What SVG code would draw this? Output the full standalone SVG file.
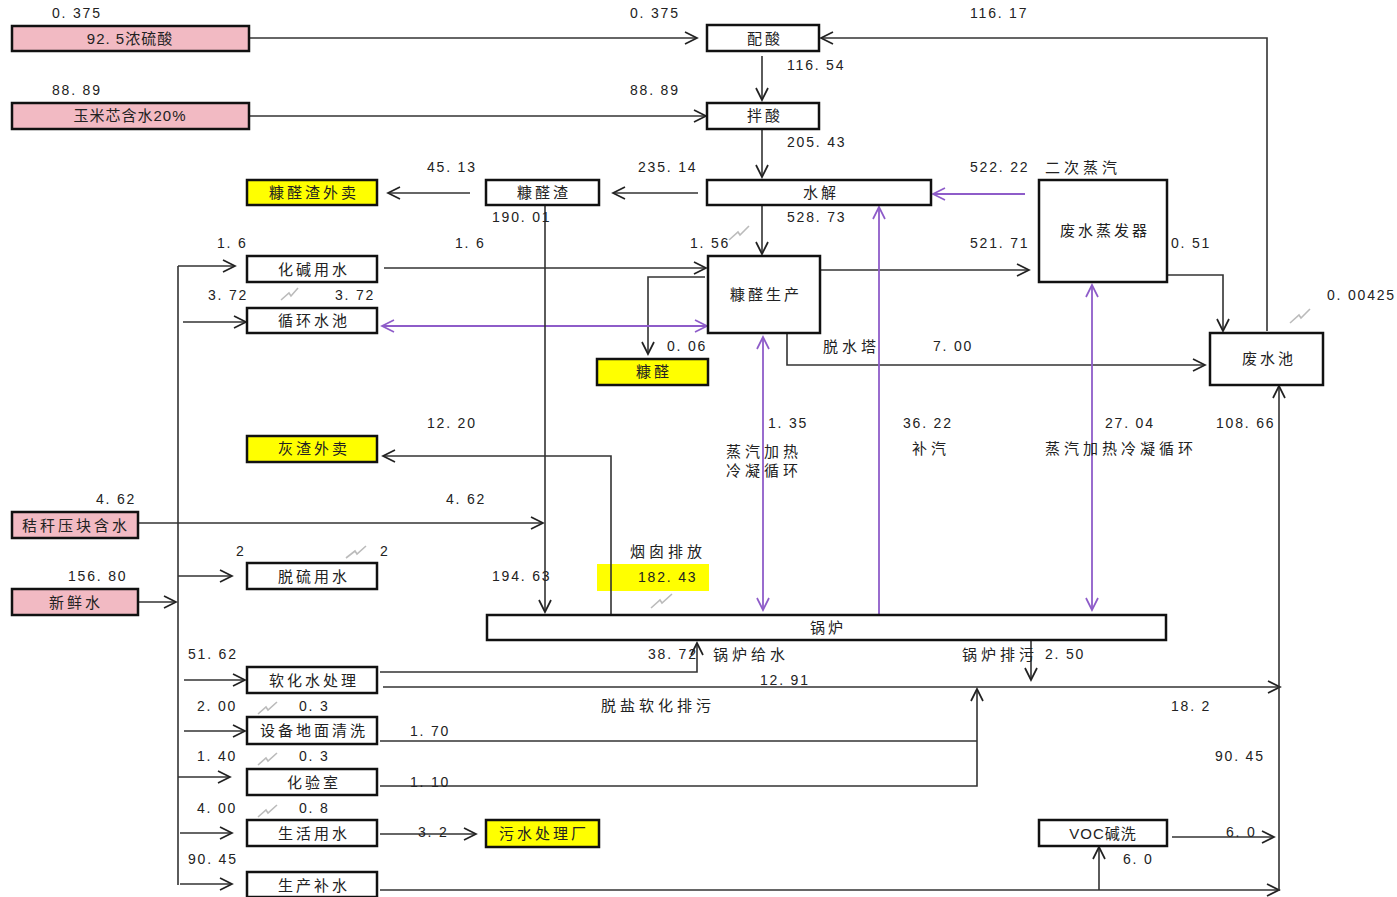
<svg xmlns="http://www.w3.org/2000/svg" width="1397" height="897" viewBox="0 0 1397 897">
<style>
.bx{fill:#fff;stroke:#111;stroke-width:2.5}
.pk{fill:#f2bac3;stroke:#111;stroke-width:2.5}
.yl{fill:#ffff00;stroke:#111;stroke-width:2.5}
.ln{fill:none;stroke:#333;stroke-width:1.6}
.pl{fill:none;stroke:#8e5cc9;stroke-width:1.8}
.sq{fill:none;stroke:#bbb;stroke-width:1.6}
text{font-family:"Liberation Sans","Noto Sans CJK SC",sans-serif;fill:#222}
.n{font-size:14px;letter-spacing:1.8px}
.c{font-size:15px;letter-spacing:4px}
.m{font-size:15px;letter-spacing:3px;text-anchor:middle}
.mx{font-size:15px;letter-spacing:1px;text-anchor:middle}
</style>
<defs>
<marker id="ah" markerUnits="userSpaceOnUse" markerWidth="16" markerHeight="16" viewBox="0 0 16 16" refX="13" refY="7" orient="auto-start-reverse"><path d="M1,1 L13,7 L1,13" fill="none" stroke="#222" stroke-width="1.7"/></marker>
<marker id="ahp" markerUnits="userSpaceOnUse" markerWidth="16" markerHeight="16" viewBox="0 0 16 16" refX="13" refY="7" orient="auto-start-reverse"><path d="M1,1 L13,7 L1,13" fill="none" stroke="#8e5cc9" stroke-width="1.7"/></marker>
</defs>
<rect width="1397" height="897" fill="#fff"/>
<rect x="597" y="564" width="112" height="27" fill="#ffff00"/>
<g id="connectors">
<path class="ln" d="M249,38 H697" marker-end="url(#ah)"/>
<path class="ln" d="M249,116 H706" marker-end="url(#ah)"/>
<path class="ln" d="M762,56 V100" marker-end="url(#ah)"/>
<path class="ln" d="M762,130 V177" marker-end="url(#ah)"/>
<path class="ln" d="M698,193 H613" marker-end="url(#ah)"/>
<path class="ln" d="M470,193 H388" marker-end="url(#ah)"/>
<path class="ln" d="M762,206 V254" marker-end="url(#ah)"/>
<path class="pl" d="M1025,194 H933" marker-end="url(#ahp)"/>
<path class="ln" d="M820,270 H1029" marker-end="url(#ah)"/>
<path class="ln" d="M384,268 H706" marker-end="url(#ah)"/>
<path class="ln" d="M705,277 H648 V354" marker-end="url(#ah)"/>
<path class="pl" d="M382,326 H707" marker-start="url(#ahp)" marker-end="url(#ahp)"/>
<path class="ln" d="M787,334 V365 H1205" marker-end="url(#ah)"/>
<path class="pl" d="M763,337 V610" marker-start="url(#ahp)" marker-end="url(#ahp)"/>
<path class="pl" d="M879,615 V207" marker-end="url(#ahp)"/>
<path class="pl" d="M1092,285 V610" marker-start="url(#ahp)" marker-end="url(#ahp)"/>
<path class="ln" d="M1168,275 H1223 V331" marker-end="url(#ah)"/>
<path class="ln" d="M1267,331 V38 H821" marker-end="url(#ah)"/>
<path class="ln" d="M178,266 V885"/>
<path class="ln" d="M178,266 H235" marker-end="url(#ah)"/>
<path class="ln" d="M183,322 H246" marker-end="url(#ah)"/>
<path class="ln" d="M178,576 H232" marker-end="url(#ah)"/>
<path class="ln" d="M138,602 H176" marker-end="url(#ah)"/>
<path class="ln" d="M184,680 H245" marker-end="url(#ah)"/>
<path class="ln" d="M184,731 H245" marker-end="url(#ah)"/>
<path class="ln" d="M178,777 H230" marker-end="url(#ah)"/>
<path class="ln" d="M180,833 H232" marker-end="url(#ah)"/>
<path class="ln" d="M180,884 H232" marker-end="url(#ah)"/>
<path class="ln" d="M138,523 H543" marker-end="url(#ah)"/>
<path class="ln" d="M545,206 V612" marker-end="url(#ah)"/>
<path class="ln" d="M611,615 V456 H383" marker-end="url(#ah)"/>
<path class="ln" d="M380,672 H697 V643" marker-end="url(#ah)"/>
<path class="ln" d="M383,687 H1280" marker-end="url(#ah)"/>
<path class="ln" d="M1031,641 V680" marker-end="url(#ah)"/>
<path class="ln" d="M380,741 H977"/>
<path class="ln" d="M380,786 H977 V689" marker-end="url(#ah)"/>
<path class="ln" d="M380,834 H476" marker-end="url(#ah)"/>
<path class="ln" d="M380,890 H1279" marker-end="url(#ah)"/>
<path class="ln" d="M1099,890 V847" marker-end="url(#ah)"/>
<path class="ln" d="M1172,837 H1274" marker-end="url(#ah)"/>
<path class="ln" d="M1279,891 V386" marker-end="url(#ah)"/>
</g>
<g id="squiggles">
<path class="sq" d="M281,300 l8,-7 l2,3 l7,-8"/>
<path class="sq" d="M729,240 l9,-8 l2,3 l9,-9"/>
<path class="sq" d="M1290,323 l9,-8 l2,3 l9,-9"/>
<path class="sq" d="M346,558 l9,-7 l2,3 l9,-8"/>
<path class="sq" d="M651,608 l9,-8 l2,3 l10,-9"/>
<path class="sq" d="M258,714 l8,-7 l2,3 l9,-8"/>
<path class="sq" d="M258,765 l8,-7 l2,3 l9,-8"/>
<path class="sq" d="M258,817 l8,-7 l2,3 l9,-8"/>
</g>
<g id="n-liusuan"><rect class="pk" x="12" y="26" width="237" height="25"/><text class="mx" x="130" y="44">92. 5浓硫酸</text></g>
<g id="n-yumixin"><rect class="pk" x="12" y="103" width="237" height="26"/><text class="mx" x="130" y="121">玉米芯含水20%</text></g>
<g id="n-peisuan"><rect class="bx" x="707" y="25" width="112" height="26"/><text class="m" x="765" y="44">配酸</text></g>
<g id="n-bansuan"><rect class="bx" x="707" y="103" width="112" height="26"/><text class="m" x="765" y="121">拌酸</text></g>
<g id="n-shuijie"><rect class="bx" x="707" y="180" width="224" height="25"/><text class="m" x="821" y="198">水解</text></g>
<g id="n-kqz"><rect class="bx" x="486" y="180" width="113" height="25"/><text class="m" x="544" y="198">糠醛渣</text></g>
<g id="n-kqzws"><rect class="yl" x="247" y="180" width="130" height="25"/><text class="m" x="314" y="198">糠醛渣外卖</text></g>
<g id="n-hjys"><rect class="bx" x="247" y="256" width="130" height="26"/><text class="m" x="314" y="275">化碱用水</text></g>
<g id="n-xhsc"><rect class="bx" x="247" y="308" width="130" height="25"/><text class="m" x="314" y="326">循环水池</text></g>
<g id="n-kqsc"><rect class="bx" x="708" y="256" width="112" height="77"/><text class="m" x="766" y="300">糠醛生产</text></g>
<g id="n-kq"><rect class="yl" x="597" y="359" width="111" height="26"/><text class="m" x="654" y="377">糠醛</text></g>
<g id="n-fszfq"><rect class="bx" x="1039" y="180" width="128" height="102"/><text class="m" x="1105" y="236">废水蒸发器</text></g>
<g id="n-fsc"><rect class="bx" x="1210" y="333" width="113" height="52"/><text class="m" x="1269" y="364">废水池</text></g>
<g id="n-hzws"><rect class="yl" x="247" y="436" width="130" height="26"/><text class="m" x="314" y="454">灰渣外卖</text></g>
<g id="n-jg"><rect class="pk" x="12" y="512" width="126" height="26"/><text class="m" x="76" y="531">秸秆压块含水</text></g>
<g id="n-xxs"><rect class="pk" x="12" y="589" width="126" height="26"/><text class="m" x="76" y="608">新鲜水</text></g>
<g id="n-tlys"><rect class="bx" x="247" y="563" width="130" height="26"/><text class="m" x="314" y="582">脱硫用水</text></g>
<g id="n-guolu"><rect class="bx" x="487" y="615" width="679" height="25"/><text class="m" x="828" y="633">锅炉</text></g>
<g id="n-rhs"><rect class="bx" x="247" y="667" width="130" height="26"/><text class="m" x="314" y="686">软化水处理</text></g>
<g id="n-sbdm"><rect class="bx" x="247" y="717" width="130" height="27"/><text class="m" x="314" y="736">设备地面清洗</text></g>
<g id="n-hys"><rect class="bx" x="247" y="769" width="130" height="26"/><text class="m" x="314" y="788">化验室</text></g>
<g id="n-shys"><rect class="bx" x="247" y="820" width="130" height="26"/><text class="m" x="314" y="839">生活用水</text></g>
<g id="n-scbs"><rect class="bx" x="247" y="872" width="130" height="25"/><text class="m" x="314" y="891">生产补水</text></g>
<g id="n-wsclc"><rect class="yl" x="486" y="820" width="113" height="27"/><text class="m" x="544" y="839">污水处理厂</text></g>
<g id="n-voc"><rect class="bx" x="1039" y="820" width="128" height="26"/><text class="mx" x="1103" y="839">VOC碱洗</text></g>
<g id="labels">
<text class="n" x="52" y="18">0. 375</text>
<text class="n" x="630" y="18">0. 375</text>
<text class="n" x="970" y="18">116. 17</text>
<text class="n" x="52" y="95">88. 89</text>
<text class="n" x="630" y="95">88. 89</text>
<text class="n" x="787" y="70">116. 54</text>
<text class="n" x="787" y="147">205. 43</text>
<text class="n" x="427" y="172">45. 13</text>
<text class="n" x="638" y="172">235. 14</text>
<text class="n" x="970" y="172">522. 22</text>
<text class="c" x="1045" y="173">二次蒸汽</text>
<text class="n" x="492" y="222">190. 01</text>
<text class="n" x="787" y="222">528. 73</text>
<text class="n" x="217" y="248">1. 6</text>
<text class="n" x="455" y="248">1. 6</text>
<text class="n" x="690" y="248">1. 56</text>
<text class="n" x="970" y="248">521. 71</text>
<text class="n" x="1171" y="248">0. 51</text>
<text class="n" x="208" y="300">3. 72</text>
<text class="n" x="335" y="300">3. 72</text>
<text class="n" x="1327" y="300">0. 00425</text>
<text class="n" x="667" y="351">0. 06</text>
<text class="c" x="823" y="352">脱水塔</text>
<text class="n" x="933" y="351">7. 00</text>
<text class="n" x="427" y="428">12. 20</text>
<text class="n" x="768" y="428">1. 35</text>
<text class="n" x="903" y="428">36. 22</text>
<text class="n" x="1105" y="428">27. 04</text>
<text class="n" x="1216" y="428">108. 66</text>
<text class="c" x="726" y="457">蒸汽加热</text>
<text class="c" x="726" y="476">冷凝循环</text>
<text class="c" x="912" y="454">补汽</text>
<text class="c" x="1045" y="454">蒸汽加热冷凝循环</text>
<text class="n" x="96" y="504">4. 62</text>
<text class="n" x="446" y="504">4. 62</text>
<text class="c" x="630" y="557">烟囱排放</text>
<text class="n" x="236" y="556">2</text>
<text class="n" x="380" y="556">2</text>
<text class="n" x="68" y="581">156. 80</text>
<text class="n" x="492" y="581">194. 63</text>
<text class="n" x="638" y="582">182. 43</text>
<text class="n" x="188" y="659">51. 62</text>
<text class="n" x="648" y="659">38. 72</text>
<text class="c" x="713" y="660">锅炉给水</text>
<text class="c" x="962" y="660">锅炉排污</text>
<text class="n" x="1045" y="659">2. 50</text>
<text class="n" x="760" y="685">12. 91</text>
<text class="n" x="197" y="711">2. 00</text>
<text class="n" x="299" y="711">0. 3</text>
<text class="c" x="601" y="711">脱盐软化排污</text>
<text class="n" x="1171" y="711">18. 2</text>
<text class="n" x="410" y="736">1. 70</text>
<text class="n" x="197" y="761">1. 40</text>
<text class="n" x="299" y="761">0. 3</text>
<text class="n" x="1215" y="761">90. 45</text>
<text class="n" x="410" y="787">1. 10</text>
<text class="n" x="197" y="813">4. 00</text>
<text class="n" x="299" y="813">0. 8</text>
<text class="n" x="418" y="837">3. 2</text>
<text class="n" x="1226" y="837">6. 0</text>
<text class="n" x="1123" y="864">6. 0</text>
<text class="n" x="188" y="864">90. 45</text>
</g>
</svg>
